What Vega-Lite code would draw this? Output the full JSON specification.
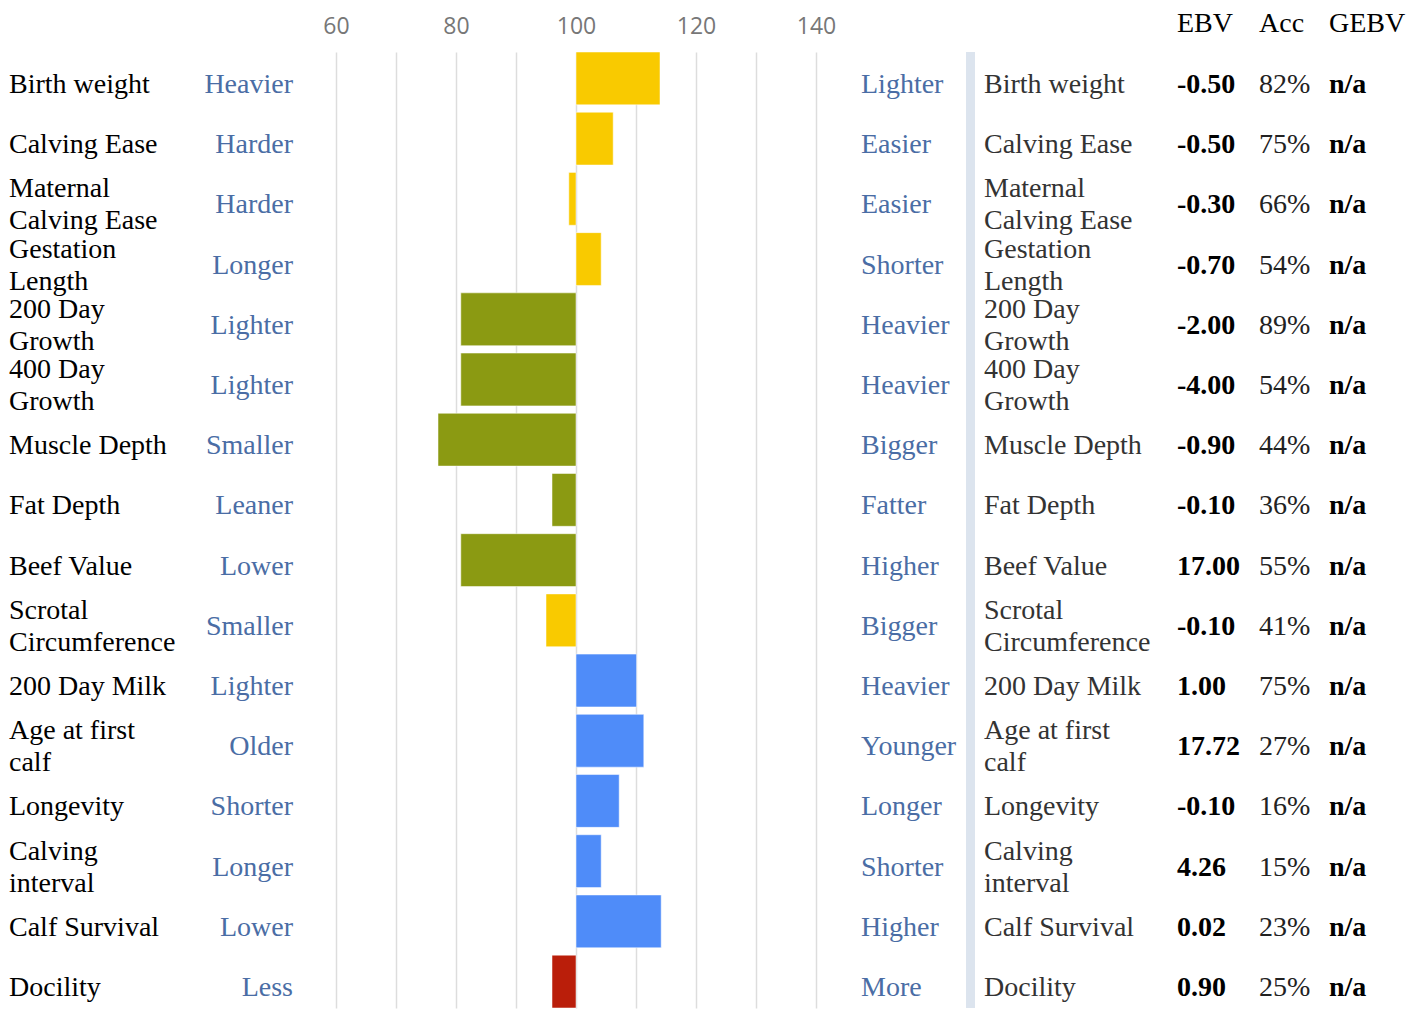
{
  "$schema": "https://vega.github.io/schema/vega-lite/v6.json",
  "padding": {"top": 10, "left": 0, "right": 0, "bottom": 0},
  "background": "white",
  "config": {
    "view": {"stroke": null},
    "concat": {"spacing": 0},
    "text": {"font": "Liberation Serif", "fontSize": 28, "baseline": "middle", "lineHeight": 32, "lineBreak": "\n", "dy": 6.5},
    "title": {"font": "Liberation Serif", "fontSize": 28, "fontWeight": "normal", "color": "#000000", "anchor": "start", "offset": 14, "dx": 9}
  },
  "data": {"values": [
    {"trait": "Birth weight", "label": "Birth weight", "low": "Heavier", "high": "Lighter", "index": 114, "group": "Calving", "ebv": "-0.50", "acc": "82%", "gebv": "n/a"},
    {"trait": "Calving Ease", "label": "Calving Ease", "low": "Harder", "high": "Easier", "index": 106.2, "group": "Calving", "ebv": "-0.50", "acc": "75%", "gebv": "n/a"},
    {"trait": "Maternal Calving Ease", "label": "Maternal\nCalving Ease", "low": "Harder", "high": "Easier", "index": 98.8, "group": "Calving", "ebv": "-0.30", "acc": "66%", "gebv": "n/a"},
    {"trait": "Gestation Length", "label": "Gestation\nLength", "low": "Longer", "high": "Shorter", "index": 104.2, "group": "Calving", "ebv": "-0.70", "acc": "54%", "gebv": "n/a"},
    {"trait": "200 Day Growth", "label": "200 Day\nGrowth", "low": "Lighter", "high": "Heavier", "index": 80.8, "group": "Growth", "ebv": "-2.00", "acc": "89%", "gebv": "n/a"},
    {"trait": "400 Day Growth", "label": "400 Day\nGrowth", "low": "Lighter", "high": "Heavier", "index": 80.8, "group": "Growth", "ebv": "-4.00", "acc": "54%", "gebv": "n/a"},
    {"trait": "Muscle Depth", "label": "Muscle Depth", "low": "Smaller", "high": "Bigger", "index": 77, "group": "Growth", "ebv": "-0.90", "acc": "44%", "gebv": "n/a"},
    {"trait": "Fat Depth", "label": "Fat Depth", "low": "Leaner", "high": "Fatter", "index": 96, "group": "Growth", "ebv": "-0.10", "acc": "36%", "gebv": "n/a"},
    {"trait": "Beef Value", "label": "Beef Value", "low": "Lower", "high": "Higher", "index": 80.8, "group": "Growth", "ebv": "17.00", "acc": "55%", "gebv": "n/a"},
    {"trait": "Scrotal Circumference", "label": "Scrotal\nCircumference", "low": "Smaller", "high": "Bigger", "index": 95, "group": "Calving", "ebv": "-0.10", "acc": "41%", "gebv": "n/a"},
    {"trait": "200 Day Milk", "label": "200 Day Milk", "low": "Lighter", "high": "Heavier", "index": 110.1, "group": "Maternal", "ebv": "1.00", "acc": "75%", "gebv": "n/a"},
    {"trait": "Age at first calf", "label": "Age at first\ncalf", "low": "Older", "high": "Younger", "index": 111.3, "group": "Maternal", "ebv": "17.72", "acc": "27%", "gebv": "n/a"},
    {"trait": "Longevity", "label": "Longevity", "low": "Shorter", "high": "Longer", "index": 107.2, "group": "Maternal", "ebv": "-0.10", "acc": "16%", "gebv": "n/a"},
    {"trait": "Calving interval", "label": "Calving\ninterval", "low": "Longer", "high": "Shorter", "index": 104.2, "group": "Maternal", "ebv": "4.26", "acc": "15%", "gebv": "n/a"},
    {"trait": "Calf Survival", "label": "Calf Survival", "low": "Lower", "high": "Higher", "index": 114.2, "group": "Maternal", "ebv": "0.02", "acc": "23%", "gebv": "n/a"},
    {"trait": "Docility", "label": "Docility", "low": "Less", "high": "More", "index": 96, "group": "Temperament", "ebv": "0.90", "acc": "25%", "gebv": "n/a"}
  ]},
  "hconcat": [
    {
      "width": 291, "height": 956,
      "layer": [
        {"transform": [{"filter": "indexof(datum.label, '\\n') < 0"}],
         "mark": {"type": "text", "align": "left", "x": 9, "color": "#000000"},
         "encoding": {"y": {"field": "trait", "type": "nominal", "axis": null, "sort": ["Birth weight", "Calving Ease", "Maternal Calving Ease", "Gestation Length", "200 Day Growth", "400 Day Growth", "Muscle Depth", "Fat Depth", "Beef Value", "Scrotal Circumference", "200 Day Milk", "Age at first calf", "Longevity", "Calving interval", "Calf Survival", "Docility"], "scale": {"paddingInner": 0.1225, "paddingOuter": 0}}, "text": {"field": "label"}}},
        {"transform": [{"filter": "indexof(datum.label, '\\n') >= 0"}],
         "mark": {"type": "text", "align": "left", "x": 9, "dy": -9.5, "color": "#000000"},
         "encoding": {"y": {"field": "trait", "type": "nominal", "axis": null, "sort": ["Birth weight", "Calving Ease", "Maternal Calving Ease", "Gestation Length", "200 Day Growth", "400 Day Growth", "Muscle Depth", "Fat Depth", "Beef Value", "Scrotal Circumference", "200 Day Milk", "Age at first calf", "Longevity", "Calving interval", "Calf Survival", "Docility"]}, "text": {"field": "label"}}},
        {"mark": {"type": "text", "align": "right", "dx": 2, "color": "#4A6DA5"},
         "encoding": {"y": {"field": "trait", "type": "nominal", "axis": null, "sort": ["Birth weight", "Calving Ease", "Maternal Calving Ease", "Gestation Length", "200 Day Growth", "400 Day Growth", "Muscle Depth", "Fat Depth", "Beef Value", "Scrotal Circumference", "200 Day Milk", "Age at first calf", "Longevity", "Calving interval", "Calf Survival", "Docility"]}, "x": {"value": "width"}, "text": {"field": "low"}}}
      ]
    },
    {
      "width": 558, "height": 956,
      "mark": {"type": "bar", "stroke": "white", "strokeOpacity": 0.5, "strokeWidth": 1},
      "encoding": {
        "y": {"field": "trait", "type": "nominal", "axis": null, "sort": ["Birth weight", "Calving Ease", "Maternal Calving Ease", "Gestation Length", "200 Day Growth", "400 Day Growth", "Muscle Depth", "Fat Depth", "Beef Value", "Scrotal Circumference", "200 Day Milk", "Age at first calf", "Longevity", "Calving interval", "Calf Survival", "Docility"], "scale": {"paddingInner": 0.1225, "paddingOuter": 0}},
        "x": {"field": "index", "type": "quantitative",
              "scale": {"domain": [52.8333, 145.8333], "nice": false, "zero": false},
              "axis": {"orient": "top", "values": [60, 70, 80, 90, 100, 110, 120, 130, 140], "labelExpr": "datum.value % 20 == 0 ? datum.label : ''",
                       "grid": true, "gridColor": "#DDDDDD", "gridWidth": 1.5, "ticks": false, "domain": false, "title": null,
                       "labelFont": "Open Sans", "labelFontSize": 23, "labelColor": "#777777", "labelPadding": 14}},
        "x2": {"datum": 100},
        "color": {"field": "group", "type": "nominal", "legend": null,
                  "scale": {"domain": ["Calving", "Growth", "Maternal", "Temperament"], "range": ["#F9CA00", "#8B9A12", "#4F8CF9", "#BA1E0A"]}}
      }
    },
    {
      "width": 115, "height": 956,
      "mark": {"type": "text", "align": "left", "x": 10, "color": "#4A6DA5"},
      "encoding": {"y": {"field": "trait", "type": "nominal", "axis": null, "sort": ["Birth weight", "Calving Ease", "Maternal Calving Ease", "Gestation Length", "200 Day Growth", "400 Day Growth", "Muscle Depth", "Fat Depth", "Beef Value", "Scrotal Circumference", "200 Day Milk", "Age at first calf", "Longevity", "Calving interval", "Calf Survival", "Docility"]}, "text": {"field": "high"}}
    },
    {
      "width": 9, "height": 956,
      "data": {"values": [{"sep": 1}]},
      "mark": {"type": "rule", "color": "#DCE4EE", "strokeWidth": 9},
      "encoding": {"x": {"value": 4.5}}
    },
    {
      "width": 193, "height": 956,
      "layer": [
        {"transform": [{"filter": "indexof(datum.label, '\\n') < 0"}],
         "mark": {"type": "text", "align": "left", "x": 9, "color": "#333333"},
         "encoding": {"y": {"field": "trait", "type": "nominal", "axis": null, "sort": ["Birth weight", "Calving Ease", "Maternal Calving Ease", "Gestation Length", "200 Day Growth", "400 Day Growth", "Muscle Depth", "Fat Depth", "Beef Value", "Scrotal Circumference", "200 Day Milk", "Age at first calf", "Longevity", "Calving interval", "Calf Survival", "Docility"]}, "text": {"field": "label"}}},
        {"transform": [{"filter": "indexof(datum.label, '\\n') >= 0"}],
         "mark": {"type": "text", "align": "left", "x": 9, "dy": -9.5, "color": "#333333"},
         "encoding": {"y": {"field": "trait", "type": "nominal", "axis": null, "sort": ["Birth weight", "Calving Ease", "Maternal Calving Ease", "Gestation Length", "200 Day Growth", "400 Day Growth", "Muscle Depth", "Fat Depth", "Beef Value", "Scrotal Circumference", "200 Day Milk", "Age at first calf", "Longevity", "Calving interval", "Calf Survival", "Docility"]}, "text": {"field": "label"}}}
      ]
    },
    {
      "width": 82, "height": 956,
      "title": {"text": "EBV"},
      "mark": {"type": "text", "align": "left", "x": 9, "color": "#000000", "fontWeight": "bold"},
      "encoding": {"y": {"field": "trait", "type": "nominal", "axis": null, "sort": ["Birth weight", "Calving Ease", "Maternal Calving Ease", "Gestation Length", "200 Day Growth", "400 Day Growth", "Muscle Depth", "Fat Depth", "Beef Value", "Scrotal Circumference", "200 Day Milk", "Age at first calf", "Longevity", "Calving interval", "Calf Survival", "Docility"]}, "text": {"field": "ebv"}}
    },
    {
      "width": 70, "height": 956,
      "title": {"text": "Acc"},
      "mark": {"type": "text", "align": "left", "x": 9, "color": "#222222"},
      "encoding": {"y": {"field": "trait", "type": "nominal", "axis": null, "sort": ["Birth weight", "Calving Ease", "Maternal Calving Ease", "Gestation Length", "200 Day Growth", "400 Day Growth", "Muscle Depth", "Fat Depth", "Beef Value", "Scrotal Circumference", "200 Day Milk", "Age at first calf", "Longevity", "Calving interval", "Calf Survival", "Docility"]}, "text": {"field": "acc"}}
    },
    {
      "width": 90, "height": 956,
      "title": {"text": "GEBV"},
      "mark": {"type": "text", "align": "left", "x": 9, "color": "#000000", "fontWeight": "bold"},
      "encoding": {"y": {"field": "trait", "type": "nominal", "axis": null, "sort": ["Birth weight", "Calving Ease", "Maternal Calving Ease", "Gestation Length", "200 Day Growth", "400 Day Growth", "Muscle Depth", "Fat Depth", "Beef Value", "Scrotal Circumference", "200 Day Milk", "Age at first calf", "Longevity", "Calving interval", "Calf Survival", "Docility"]}, "text": {"field": "gebv"}}
    }
  ],
  "resolve": {"scale": {"y": "shared"}}
}
